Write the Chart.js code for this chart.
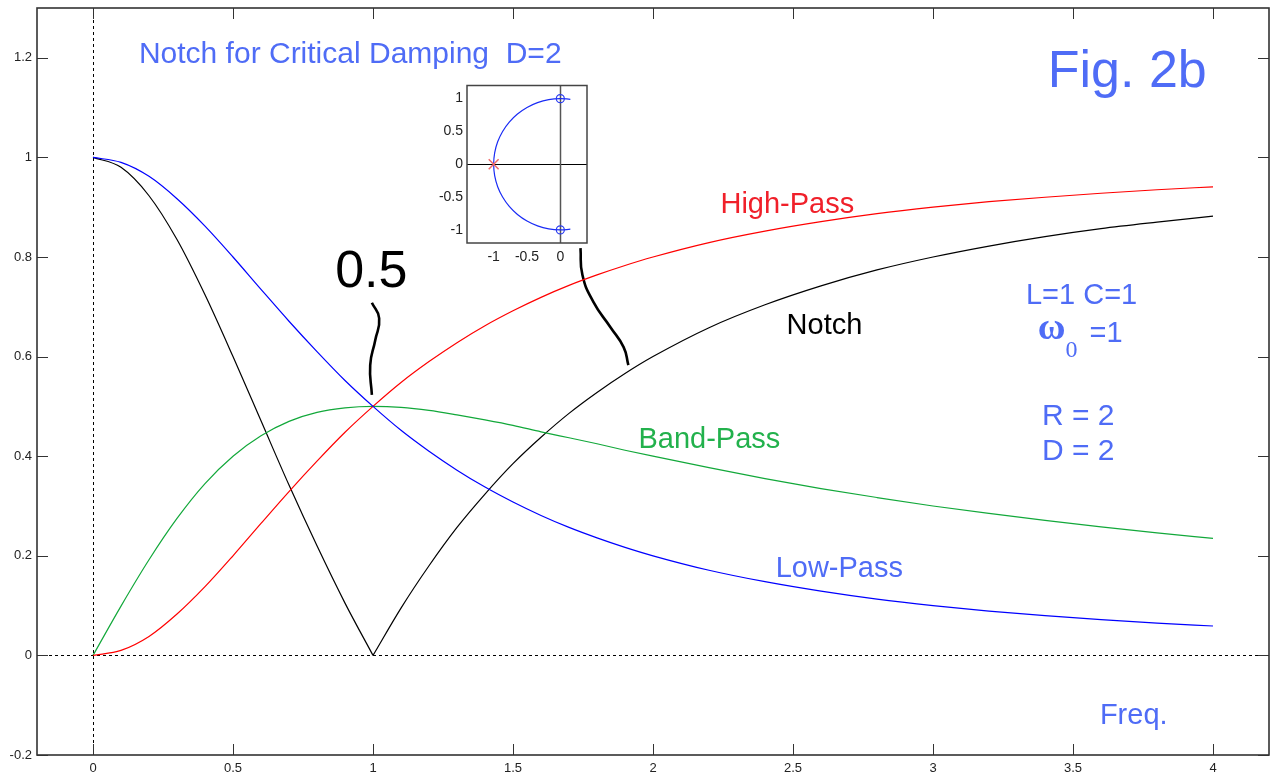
<!DOCTYPE html>
<html>
<head>
<meta charset="utf-8">
<title>Notch for Critical Damping</title>
<script src="https://cdn.jsdelivr.net/npm/chart.js@4.4.1/dist/chart.umd.min.js"></script>
<style>
  html, body { margin: 0; padding: 0; background: #fff; }
  #wrap { position: relative; width: 1277px; height: 775px; overflow: hidden; }
  #main { position: absolute; left: 0; top: 0; }
  #inset { position: absolute; left: 425px; top: 77px; }
</style>
</head>
<body>
<div id="wrap">
  <canvas id="main" width="1277" height="775"></canvas>
  <canvas id="inset" width="172" height="193"></canvas>
</div>
<script>
// frequency response, R=2 L=1 C=1 (critical damping)
const freq     = [0, 0.1, 0.2, 0.3, 0.4, 0.5, 0.6, 0.7, 0.8, 0.9, 1.0, 1.1, 1.2, 1.3, 1.4, 1.5, 1.6, 1.7, 1.8, 1.9, 2.0, 2.2, 2.4, 2.6, 2.8, 3.0, 3.2, 3.4, 3.6, 3.8, 4.0];
const lowPass  = [1, 0.990, 0.962, 0.917, 0.862, 0.800, 0.735, 0.671, 0.610, 0.552, 0.500, 0.452, 0.410, 0.372, 0.338, 0.308, 0.281, 0.257, 0.236, 0.217, 0.200, 0.171, 0.148, 0.129, 0.113, 0.100, 0.089, 0.080, 0.072, 0.065, 0.059];
const highPass = [0, 0.010, 0.038, 0.083, 0.138, 0.200, 0.265, 0.329, 0.390, 0.448, 0.500, 0.548, 0.590, 0.628, 0.662, 0.692, 0.719, 0.743, 0.764, 0.783, 0.800, 0.829, 0.852, 0.871, 0.887, 0.900, 0.911, 0.920, 0.928, 0.935, 0.941];
const bandPass = [0, 0.099, 0.192, 0.275, 0.345, 0.400, 0.441, 0.470, 0.488, 0.497, 0.500, 0.498, 0.492, 0.483, 0.473, 0.462, 0.449, 0.437, 0.425, 0.412, 0.400, 0.377, 0.355, 0.335, 0.317, 0.300, 0.285, 0.271, 0.258, 0.246, 0.235];
const notch    = [1, 0.980, 0.923, 0.835, 0.724, 0.600, 0.471, 0.342, 0.220, 0.105, 0, 0.095, 0.180, 0.257, 0.324, 0.385, 0.438, 0.486, 0.528, 0.566, 0.600, 0.658, 0.704, 0.742, 0.774, 0.800, 0.822, 0.841, 0.857, 0.870, 0.882];

const xTicks = [0, 0.5, 1, 1.5, 2, 2.5, 3, 3.5, 4];
const yTicks = [-0.2, 0, 0.2, 0.4, 0.6, 0.8, 1, 1.2];

// hand-drawn pointer strokes (data units)
const ptrHalfX  = [0.996, 1.022, 1.008, 0.990, 0.996];
const ptrHalfY  = [0.708, 0.677, 0.633, 0.583, 0.523];
const ptrInsetX = [1.741, 1.748, 1.787, 1.848, 1.895, 1.912];
const ptrInsetY = [0.818, 0.764, 0.710, 0.659, 0.619, 0.583];

// pole-zero inset: root locus on the unit circle
const locusRe = [0.15, 0, -0.174, -0.342, -0.5, -0.643, -0.766, -0.866, -0.940, -0.985, -1, -0.985, -0.940, -0.866, -0.766, -0.643, -0.5, -0.342, -0.174, 0, 0.15];
const locusIm = [0.99, 1, 0.985, 0.940, 0.866, 0.766, 0.643, 0.5, 0.342, 0.174, 0, -0.174, -0.342, -0.5, -0.643, -0.766, -0.866, -0.940, -0.985, -1, -0.99];
const poleRe = [-1], poleIm = [0];
const zeroRe = [0, 0], zeroIm = [1, -1];
const insetXTicks = [-1, -0.5, 0];
const insetYTicks = [-1, -0.5, 0, 0.5, 1];

const SANS = '"Liberation Sans", Arial, sans-serif';
const SERIF = '"Liberation Serif", "Times New Roman", serif';
const BLUE_TXT = '#4f6cf6';

const pts = (xs, ys) => xs.map((v, i) => ({ x: v, y: ys[i] }));
const kink = freq.indexOf(1);

function curve(xs, ys, color) {
  return {
    data: pts(xs, ys),
    borderColor: color,
    borderWidth: 1.2,
    pointRadius: 0,
    cubicInterpolationMode: 'monotone',
  };
}

function pointer(xs, ys) {
  return { data: pts(xs, ys), borderColor: '#000', borderWidth: 2.6, pointRadius: 0, tension: 0.5 };
}

// text labels: [text, x, y (baseline), color, font]
const labels = [
  ['Notch for Critical Damping  D=2', 0.164, 1.190, BLUE_TXT, '30px ' + SANS],
  ['Fig. 2b', 3.410, 1.142, BLUE_TXT, '52px ' + SANS],
  ['0.5', 0.865, 0.740, '#000', '52px ' + SANS],
  ['High-Pass', 2.241, 0.888, '#f0202a', '29px ' + SANS],
  ['Notch', 2.477, 0.645, '#000', '29px ' + SANS],
  ['Band-Pass', 1.948, 0.416, '#22b14c', '29px ' + SANS],
  ['Low-Pass', 2.438, 0.157, BLUE_TXT, '29px ' + SANS],
  ['L=1 C=1', 3.332, 0.706, BLUE_TXT, '29px ' + SANS],
  ['R = 2', 3.389, 0.462, BLUE_TXT, '30px ' + SANS],
  ['D = 2', 3.389, 0.392, BLUE_TXT, '30px ' + SANS],
  ['Freq.', 3.596, -0.137, BLUE_TXT, '29px ' + SANS],
];

function inwardTicks(ctx, a, scale, vals, horiz, len) {
  ctx.beginPath();
  vals.forEach(v => {
    const p = Math.round(scale.getPixelForValue(v)) + 0.5;
    if (horiz) {
      ctx.moveTo(p, a.bottom); ctx.lineTo(p, a.bottom - len);
      ctx.moveTo(p, a.top); ctx.lineTo(p, a.top + len);
    } else {
      ctx.moveTo(a.left, p); ctx.lineTo(a.left + len, p);
      ctx.moveTo(a.right, p); ctx.lineTo(a.right - len, p);
    }
  });
  ctx.stroke();
}

// keep tick labels from pushing the plot box around
const fitX = h => s => { s.height = h; s.paddingLeft = 0; s.paddingRight = 0; };
const fitY = w => s => { s.width = w; s.paddingTop = 0; s.paddingBottom = 0; };

const mainDecor = {
  id: 'mainDecor',
  beforeDatasetsDraw(chart) {
    const { ctx, chartArea: a, scales: { x, y } } = chart;
    const x0 = Math.round(x.getPixelForValue(0)) + 0.5;
    const y0 = Math.round(y.getPixelForValue(0)) + 0.5;
    ctx.save();
    ctx.strokeStyle = '#000';
    ctx.lineWidth = 1;
    ctx.setLineDash([3, 3]);
    ctx.beginPath();
    ctx.moveTo(x0, a.top); ctx.lineTo(x0, a.bottom);
    ctx.moveTo(a.left, y0); ctx.lineTo(a.right, y0);
    ctx.stroke();
    ctx.restore();
  },
  afterDatasetsDraw(chart) {
    const { ctx, scales: { x, y } } = chart;
    ctx.save();
    ctx.textBaseline = 'alphabetic';
    ctx.textAlign = 'left';
    labels.forEach(([t, lx, ly, col, font]) => {
      ctx.font = font;
      ctx.fillStyle = col;
      ctx.fillText(t, x.getPixelForValue(lx), y.getPixelForValue(ly));
    });
    // omega_0 = 1
    let px = x.getPixelForValue(3.374);
    const py = y.getPixelForValue(0.635);
    ctx.fillStyle = BLUE_TXT;
    ctx.font = 'bold 38px ' + SERIF;
    ctx.fillText('\u03c9', px, py);
    px += ctx.measureText('\u03c9').width;
    ctx.font = '24px ' + SERIF;
    ctx.fillText('0', px, py + 18);
    px += ctx.measureText('0').width + 4;
    ctx.font = '29px ' + SANS;
    ctx.fillText(' =1', px, py + 3);
    ctx.restore();
  },
  afterDraw(chart) {
    const { ctx, chartArea: a, scales: { x, y } } = chart;
    ctx.save();
    ctx.strokeStyle = '#333';
    ctx.lineWidth = 1;
    inwardTicks(ctx, a, x, xTicks, true, 11);
    inwardTicks(ctx, a, y, yTicks, false, 11);
    ctx.lineWidth = 1.6;
    ctx.strokeRect(a.left, a.top, a.right - a.left, a.bottom - a.top);
    ctx.restore();
  },
};

new Chart(document.getElementById('main'), {
  type: 'line',
  data: {
    datasets: [
      curve(freq, lowPass, '#0000ff'),
      curve(freq, highPass, '#ff0000'),
      curve(freq, bandPass, '#12a83a'),
      curve(freq.slice(0, kink + 1), notch.slice(0, kink + 1), '#000'),
      curve(freq.slice(kink), notch.slice(kink), '#000'),
      pointer(ptrHalfX, ptrHalfY),
      pointer(ptrInsetX, ptrInsetY),
    ],
  },
  options: {
    responsive: false,
    animation: false,
    devicePixelRatio: 1,
    layout: { padding: { top: 8, right: 8, left: 0, bottom: 0 } },
    plugins: { legend: { display: false }, tooltip: { enabled: false } },
    scales: {
      x: {
        type: 'linear',
        min: -0.2,
        max: 4.2,
        grid: { display: false, drawTicks: false },
        border: { display: false },
        afterBuildTicks: s => { s.ticks = xTicks.map(v => ({ value: v })); },
        afterFit: fitX(20),
        ticks: { color: '#222', font: { family: SANS, size: 13 }, padding: 6, maxRotation: 0, callback: v => String(v) },
      },
      y: {
        type: 'linear',
        min: -0.2,
        max: 1.3,
        grid: { display: false, drawTicks: false },
        border: { display: false },
        afterBuildTicks: s => { s.ticks = yTicks.map(v => ({ value: v })); },
        afterFit: fitY(37),
        ticks: { color: '#222', font: { family: SANS, size: 13 }, padding: 5, callback: v => String(v) },
      },
    },
  },
  plugins: [mainDecor],
});

const insetDecor = {
  id: 'insetDecor',
  beforeDraw(chart) {
    const { ctx, chartArea: a } = chart;
    ctx.save();
    ctx.fillStyle = '#fff';
    ctx.fillRect(a.left, a.top, a.right - a.left, a.bottom - a.top);
    ctx.restore();
  },
  beforeDatasetsDraw(chart) {
    const { ctx, chartArea: a, scales: { x, y } } = chart;
    const x0 = Math.round(x.getPixelForValue(0)) + 0.5;
    const y0 = Math.round(y.getPixelForValue(0)) + 0.5;
    ctx.save();
    ctx.lineWidth = 1;
    ctx.strokeStyle = '#000';
    ctx.beginPath();
    ctx.moveTo(a.left, y0); ctx.lineTo(a.right, y0);
    ctx.stroke();
    ctx.strokeStyle = '#555';
    ctx.lineWidth = 1.5;
    ctx.beginPath();
    ctx.moveTo(x0, a.top); ctx.lineTo(x0, a.bottom);
    ctx.stroke();
    ctx.restore();
  },
  afterDraw(chart) {
    const { ctx, chartArea: a } = chart;
    ctx.save();
    ctx.strokeStyle = '#444';
    ctx.lineWidth = 1.5;
    ctx.strokeRect(a.left, a.top, a.right - a.left, a.bottom - a.top);
    ctx.restore();
  },
};

new Chart(document.getElementById('inset'), {
  type: 'line',
  data: {
    datasets: [
      {
        data: pts(poleRe, poleIm),
        showLine: false,
        pointStyle: 'crossRot',
        pointRadius: 7,
        borderColor: '#f06a6a',
        borderWidth: 1.5,
        order: 0,
      },
      {
        data: pts(zeroRe, zeroIm),
        showLine: false,
        pointStyle: 'circle',
        pointRadius: 4,
        borderColor: '#2a3cf0',
        backgroundColor: 'rgba(0,0,0,0)',
        borderWidth: 1.2,
        order: 1,
      },
      {
        data: pts(locusRe, locusIm),
        borderColor: '#1a2cf5',
        borderWidth: 1.2,
        pointRadius: 0,
        tension: 0.4,
        order: 2,
      },
    ],
  },
  options: {
    responsive: false,
    animation: false,
    devicePixelRatio: 1,
    layout: { padding: { top: 2, right: 10, left: 0, bottom: 0 } },
    plugins: { legend: { display: false }, tooltip: { enabled: false } },
    scales: {
      x: {
        type: 'linear',
        min: -1.4,
        max: 0.4,
        grid: { display: false, drawTicks: false },
        border: { display: false },
        afterBuildTicks: s => { s.ticks = insetXTicks.map(v => ({ value: v })); },
        afterFit: fitX(27),
        ticks: { color: '#222', font: { family: SANS, size: 14 }, padding: 6, maxRotation: 0, callback: v => String(v) },
      },
      y: {
        type: 'linear',
        min: -1.2,
        max: 1.2,
        grid: { display: false, drawTicks: false },
        border: { display: false },
        afterBuildTicks: s => { s.ticks = insetYTicks.map(v => ({ value: v })); },
        afterFit: fitY(42),
        ticks: { color: '#222', font: { family: SANS, size: 14 }, padding: 4, callback: v => String(v) },
      },
    },
  },
  plugins: [insetDecor],
});
</script>
</body>
</html>
